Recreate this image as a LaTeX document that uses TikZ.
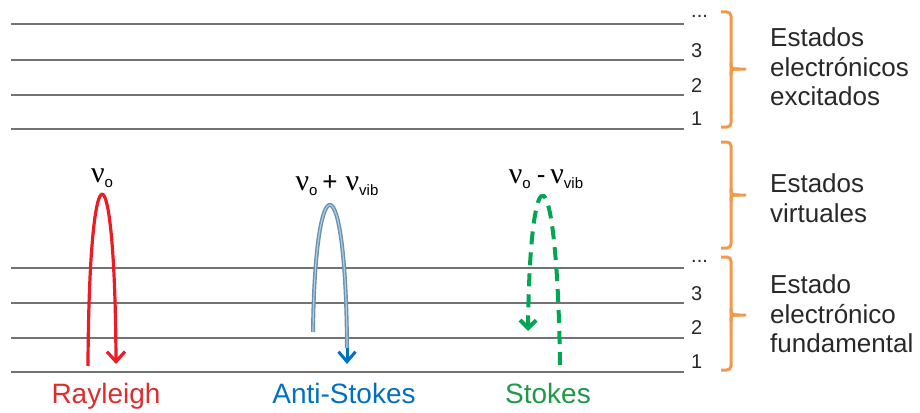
\documentclass[tikz,border=0pt]{standalone}
\usepackage{fontspec}
\setmainfont{Liberation Sans}
\newfontfamily\grk{Liberation Serif}
\usetikzlibrary{arrows.meta}
\definecolor{lvl}{RGB}{115,115,115}
\definecolor{brc}{RGB}{242,152,72}
\definecolor{ray}{RGB}{235,28,36}
\definecolor{rayt}{RGB}{222,45,45}
\definecolor{ast}{RGB}{105,145,178}
\definecolor{astl}{RGB}{180,203,222}
\definecolor{astt}{RGB}{0,112,192}
\definecolor{stk}{RGB}{0,166,81}
\definecolor{stkt}{RGB}{32,152,72}
\definecolor{txt}{RGB}{40,40,40}
\newcommand{\gnu}{{\grk\fontsize{30}{30}\selectfont ν}}
\newcommand{\lsub}[1]{\raisebox{-5pt}{\fontsize{15}{15}\selectfont #1}}
\tikzset{
  level/.style={draw=lvl, line width=2},
  num/.style={anchor=base west, inner sep=0, text=txt, font=\fontsize{20}{20}\selectfont},
  brace/.style={draw=brc, line width=3, rounded corners=4pt, line join=round},
  side/.style={anchor=base west, inner sep=0, text=txt, font=\fontsize{26}{30}\selectfont},
  bottom/.style={anchor=base, inner sep=0, font=\fontsize{28}{28}\selectfont},
  freq/.style={anchor=base, inner sep=0, text=black}
}
\begin{document}
\begin{tikzpicture}[x=1pt,y=-1pt]
\useasboundingbox (0,0) rectangle (920,412);
% energy levels
\foreach \y/\n in {24/u4,60/u3,95/u2,128.5/u1,267.5/l4,302.5/l3,337.5/l2,372/l1}{
  \coordinate (\n a) at (11,\y);
  \coordinate (\n b) at (684,\y);
  \draw[level] (\n a) -- (\n b);
}
% level numbers
\node[num] (nu4) at (691,18) {...};
\node[num] (nu3) at (691,57) {3};
\node[num] (nu2) at (691,92) {2};
\node[num] (nu1) at (691,125) {1};
\node[num] (nl4) at (691,262) {...};
\node[num] (nl3) at (691,300) {3};
\node[num] (nl2) at (691,334) {2};
\node[num] (nl1) at (691,368) {1};
% braces
\foreach \t/\m/\b in {12/69/127, 142/195/248, 257/315/370}{
  \draw[brace] (721,\t) -- (731,\t) -- (731,\b) -- (721,\b);
  \draw[draw=brc, line width=3, line cap=round] (731,\m-6) .. controls (731,\m) .. (739,\m) -- (745,\m);
  \draw[draw=brc, line width=3, line cap=round] (731,\m+6) .. controls (731,\m) .. (739,\m);
}
% side texts
\node[side] (e1) at (770,46) {Estados};
\node[side] (e2) at (770,76) {electrónicos};
\node[side] (e3) at (770,105) {excitados};
\node[side] (v1) at (770,192) {Estados};
\node[side] (v2) at (770,222) {virtuales};
\node[side] (f1) at (770,293) {Estado};
\node[side] (f2) at (770,323) {electrónico};
\node[side] (f3) at (770,352) {fundamental};
% Rayleigh
\coordinate (r0) at (88,366);
\coordinate (r1) at (116,364);
\draw[ray, line width=3.2, -{Straight Barb[length=10pt,width=18pt]}] (r0) .. controls (89,138) and (115,138) .. (r1);
\node[freq] (rf) at (102,182) {\gnu\lsub{o}};
\node[bottom, text=rayt] (rl) at (106,403) {Rayleigh};
% Anti-Stokes
\coordinate (b0) at (313,332);
\coordinate (b1) at (347,348);
\coordinate (b2) at (347,364);
\draw[draw=ast, double=astl, double distance=1.2pt, line width=1.4pt] (b0) .. controls (315,160) and (346,160) .. (b1);
\draw[astt, line width=3, -{Straight Barb[length=10pt,width=17pt]}] (b1) -- (b2);
\node[freq] (bf) at (337,190) {\gnu\lsub{o}\hspace{5pt}{\fontsize{26}{26}\selectfont +}\hspace{8pt}\gnu\lsub{vib}};
\node[bottom, text=astt] (bl) at (344,403) {Anti-Stokes};
% Stokes
\coordinate (g0) at (560,365);
\coordinate (g1) at (528,331);
\draw[stk, line width=4, dash pattern=on 13pt off 8pt, -{Straight Barb[length=8pt,width=16pt]}] (g0) .. controls (557,146) and (530,146) .. (g1);
\node[freq] (gf) at (546,183) {\gnu\lsub{o}\hspace{6pt}{\fontsize{26}{26}\selectfont -}\hspace{5pt}\gnu\lsub{vib}};
\node[bottom, text=stkt] (gl) at (548,403) {Stokes};
\end{tikzpicture}
\end{document}
